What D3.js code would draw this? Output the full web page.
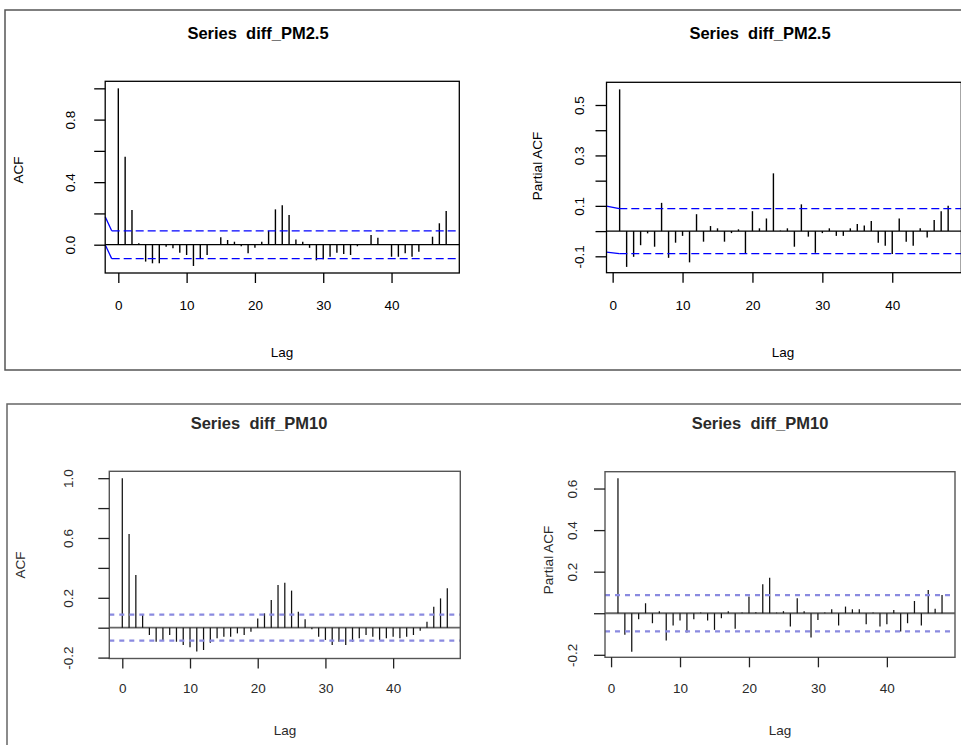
<!DOCTYPE html>
<html><head><meta charset="utf-8">
<script src="https://cdn.jsdelivr.net/npm/d3@7"></script>
<style>body{margin:0;background:#fff} svg{display:block}</style>
</head><body>
<svg id="c" width="961" height="745"></svg>
<script>
// ---------------- data ----------------
const lagsACF = d3.range(0, 49);   // 0..48
const lagsPACF = d3.range(1, 49);  // 1..48

const acfPM25 = [1.000, 0.562, 0.222, 0.010, -0.108, -0.119, -0.119, -0.013, -0.023, -0.051,
  -0.066, -0.136, -0.087, -0.066, 0.003, 0.047, 0.030, 0.019, -0.010, -0.055,
  -0.020, 0.019, 0.089, 0.226, 0.252, 0.190, 0.034, 0.019, -0.020, -0.100,
  -0.093, -0.077, -0.051, -0.060, -0.066, -0.010, 0.003, 0.062, 0.045, 0.003,
  -0.077, -0.077, -0.055, -0.077, -0.045, 0.003, 0.051, 0.137, 0.215];

const pacfPM25 = [0.562, -0.142, -0.102, -0.056, -0.009, -0.062, 0.112, -0.106, -0.046, -0.019,
  -0.124, 0.067, -0.042, 0.020, 0.011, -0.042, -0.008, 0.007, -0.089, 0.079,
  0.011, 0.050, 0.229, 0.002, 0.011, -0.062, 0.106, -0.022, -0.086, -0.008,
  0.011, -0.019, -0.019, 0.011, 0.028, 0.022, 0.040, -0.046, -0.058, -0.091,
  0.050, -0.042, -0.058, 0.011, -0.025, 0.044, 0.079, 0.100];

const acfPM10 = [1.000, 0.627, 0.352, 0.092, -0.049, -0.094, -0.082, -0.049, -0.094, -0.116,
  -0.131, -0.160, -0.149, -0.100, -0.071, -0.060, -0.060, -0.038, -0.049, -0.027,
  0.062, 0.096, 0.185, 0.285, 0.301, 0.248, 0.107, 0.056, -0.010, -0.060,
  -0.082, -0.116, -0.094, -0.116, -0.094, -0.071, -0.049, -0.060, -0.082, -0.071,
  -0.060, -0.071, -0.060, -0.049, -0.020, 0.040, 0.140, 0.196, 0.263];

const pacfPM10 = [0.649, -0.104, -0.185, -0.029, 0.048, -0.048, 0.010, -0.131, -0.059, -0.035,
  -0.093, -0.029, 0.003, -0.035, -0.080, -0.024, 0.010, -0.075, 0.003, 0.080,
  0.005, 0.139, 0.171, 0.003, 0.010, -0.064, 0.072, 0.010, -0.117, -0.032,
  0.003, 0.019, -0.059, 0.032, 0.019, 0.019, -0.053, 0.003, -0.064, -0.053,
  0.016, -0.088, -0.048, 0.059, -0.059, 0.112, 0.021, 0.088];

const ciPM25 = 0.089;
const ciPM10 = 0.087;

const xTickValues = [0, 10, 20, 30, 40];
const yTicksACF25 = [0, 0.2, 0.4, 0.6, 0.8, 1.0];
const yLabelsACF25 = [0, 0.4, 0.8];
const yTicksPACF25 = [-0.1, 0, 0.1, 0.2, 0.3, 0.4, 0.5];
const yLabelsPACF25 = [-0.1, 0.1, 0.3, 0.5];
const yTicksACF10 = [-0.2, 0, 0.2, 0.4, 0.6, 0.8, 1.0];
const yLabelsACF10 = [-0.2, 0.2, 0.6, 1.0];
const yTicksPACF10 = [-0.2, 0, 0.2, 0.4, 0.6];
const yLabelsPACF10 = [-0.2, 0.2, 0.4, 0.6];

const titles = ["Series  diff_PM2.5", "Series  diff_PM2.5", "Series  diff_PM10", "Series  diff_PM10"];
const yTitles = ["ACF", "Partial ACF", "ACF", "Partial ACF"];
const xTitle = "Lag";

// ---------------- layout / style ----------------
const FONT = "'Liberation Sans', Arial, Helvetica, sans-serif";
const topStyle = {ink: "#000", box: "#000", boxW: 1.3, zero: "#000", zeroW: 1.2, bar: "#000", barW: 1.4,
  ci: "#0000ff", ciW: 1.3, dash: "8,4", text: "#000"};
const botStyle = {ink: "#222", box: "#555", boxW: 1.4, zero: "#666", zeroW: 1.8, bar: "#111", barW: 1.25,
  ci: "#8a8ae0", ciW: 2.2, dash: "5,5", text: "#2a2a2a"};

const panels = [
  {lags: lagsACF, values: acfPM25, ci: ciPM25, box: [105.2, 81.3, 459.3, 273.0],
   xlim: [-1.92, 49.92], ylim: [-0.181, 1.045], yt: yTicksACF25, yl: yLabelsACF25,
   title: titles[0], ytitle: yTitles[0], titleX: 258, titleY: 33, yLabX: 70, xLabY: 305,
   yTitleX: 18, yTitleY: 170, xTitleX: 282, xTitleY: 352, style: topStyle,
   lead: {xEnd: -0.97, up0: 0.179, lo0: 0.0}},
  {lags: lagsPACF, values: pacfPM25, ci: ciPM25, box: [606.5, 82.3, 961.3, 272.7],
   xlim: [-0.88, 49.88], ylim: [-0.165, 0.59], yt: yTicksPACF25, yl: yLabelsPACF25,
   title: titles[1], ytitle: yTitles[1], titleX: 760, titleY: 33, yLabX: 579, xLabY: 305,
   yTitleX: 537, yTitleY: 166, xTitleX: 783, xTitleY: 352, style: topStyle,
   lead: {xEnd: 0.95, up0: 0.099, lo0: -0.083}},
  {lags: lagsACF, values: acfPM10, ci: ciPM10, box: [109.3, 471.3, 460.3, 658.5],
   xlim: [-1.92, 49.92], ylim: [-0.206, 1.046], yt: yTicksACF10, yl: yLabelsACF10,
   title: titles[2], ytitle: yTitles[2], titleX: 259, titleY: 423, yLabX: 68, xLabY: 688,
   yTitleX: 20, yTitleY: 565, xTitleX: 285, xTitleY: 730, style: botStyle, lead: null},
  {lags: lagsPACF, values: pacfPM10, ci: ciPM10, box: [605, 471.7, 955, 657.3],
   xlim: [-0.88, 49.88], ylim: [-0.212, 0.681], yt: yTicksPACF10, yl: yLabelsPACF10,
   title: titles[3], ytitle: yTitles[3], titleX: 760, titleY: 423, yLabX: 572, xLabY: 688,
   yTitleX: 548, yTitleY: 560, xTitleX: 780, xTitleY: 730, style: botStyle, lead: null}
];

const svg = d3.select("#c");

// outer frames of the two pasted figures
svg.append("rect").attr("x", 5).attr("y", 10).attr("width", 1000).attr("height", 360)
  .attr("fill", "none").attr("stroke", "#555").attr("stroke-width", 1.5);
svg.append("rect").attr("x", 7).attr("y", 404).attr("width", 1000).attr("height", 400)
  .attr("fill", "none").attr("stroke", "#666").attr("stroke-width", 1.5);

function drawPanel(p) {
  const s = p.style;
  const [L, T, R, B] = p.box;
  const x = d3.scaleLinear().domain(p.xlim).range([L, R]);
  const y = d3.scaleLinear().domain(p.ylim).range([B, T]);
  const g = svg.append("g");

  // zero line
  g.append("line").attr("x1", L).attr("x2", R).attr("y1", y(0)).attr("y2", y(0))
    .attr("stroke", s.zero).attr("stroke-width", s.zeroW);

  // bars
  const pts = p.lags.map((l, i) => ({lag: l, v: p.values[i]}));
  g.selectAll("line.bar").data(pts).join("line").attr("class", "bar")
    .attr("x1", d => x(d.lag)).attr("x2", d => x(d.lag))
    .attr("y1", y(0)).attr("y2", d => y(d.v))
    .attr("stroke", s.bar).attr("stroke-width", s.barW);

  // confidence lines
  const xStart = p.lead ? x(p.lead.xEnd) : L;
  [p.ci, -p.ci].forEach((c, k) => {
    g.append("line").attr("x1", xStart).attr("x2", R).attr("y1", y(c)).attr("y2", y(c))
      .attr("stroke", s.ci).attr("stroke-width", s.ciW).attr("stroke-dasharray", s.dash);
    if (p.lead) {
      const v0 = k === 0 ? p.lead.up0 : p.lead.lo0;
      g.append("line").attr("x1", L).attr("x2", xStart).attr("y1", y(v0)).attr("y2", y(c))
        .attr("stroke", s.ci).attr("stroke-width", s.ciW);
    }
  });

  // box
  g.append("rect").attr("x", L).attr("y", T).attr("width", R - L).attr("height", B - T)
    .attr("fill", "none").attr("stroke", s.box).attr("stroke-width", s.boxW);

  // x axis
  const ax = g.append("g").attr("transform", `translate(0,${B})`)
    .call(d3.axisBottom(x).tickValues(xTickValues).tickSize(10).tickFormat(d3.format("d")));
  ax.select(".domain").remove();
  ax.selectAll(".tick line").attr("stroke", s.ink).attr("stroke-width", 1.3);
  ax.selectAll(".tick text").attr("y", p.xLabY - B).attr("dy", "0.35em")
    .attr("fill", s.text).style("font-family", FONT).style("font-size", "13.5px");

  // y axis
  const ay = g.append("g").attr("transform", `translate(${L},0)`)
    .call(d3.axisLeft(y).tickValues(p.yt).tickSize(11)
      .tickFormat(v => p.yl.some(u => Math.abs(u - v) < 1e-9) ? v.toFixed(1) : ""));
  ay.select(".domain").remove();
  ay.selectAll(".tick line").attr("stroke", s.ink).attr("stroke-width", 1.3);
  ay.selectAll(".tick text").attr("x", null).attr("dy", "0.35em")
    .attr("text-anchor", "middle")
    .attr("transform", `translate(${p.yLabX - L},0) rotate(-90)`)
    .attr("fill", s.text).style("font-family", FONT).style("font-size", "13.5px");

  // titles
  svg.append("text").attr("x", p.titleX).attr("y", p.titleY).attr("dy", "0.35em")
    .attr("text-anchor", "middle").attr("fill", s.text)
    .style("font-family", FONT).style("font-size", "16.5px").style("font-weight", "bold")
    .style("white-space", "pre").text(p.title);
  svg.append("text").attr("x", p.xTitleX)
    .attr("y", p.xTitleY).attr("dy", "0.35em")
    .attr("text-anchor", "middle").attr("fill", s.text)
    .style("font-family", FONT).style("font-size", "13.5px").text(xTitle);
  svg.append("text").attr("transform", `translate(${p.yTitleX},${p.yTitleY}) rotate(-90)`)
    .attr("dy", "0.35em").attr("text-anchor", "middle").attr("fill", s.text)
    .style("font-family", FONT).style("font-size", "13.5px").text(p.ytitle);
}

panels.forEach(drawPanel);
</script>
</body></html>
